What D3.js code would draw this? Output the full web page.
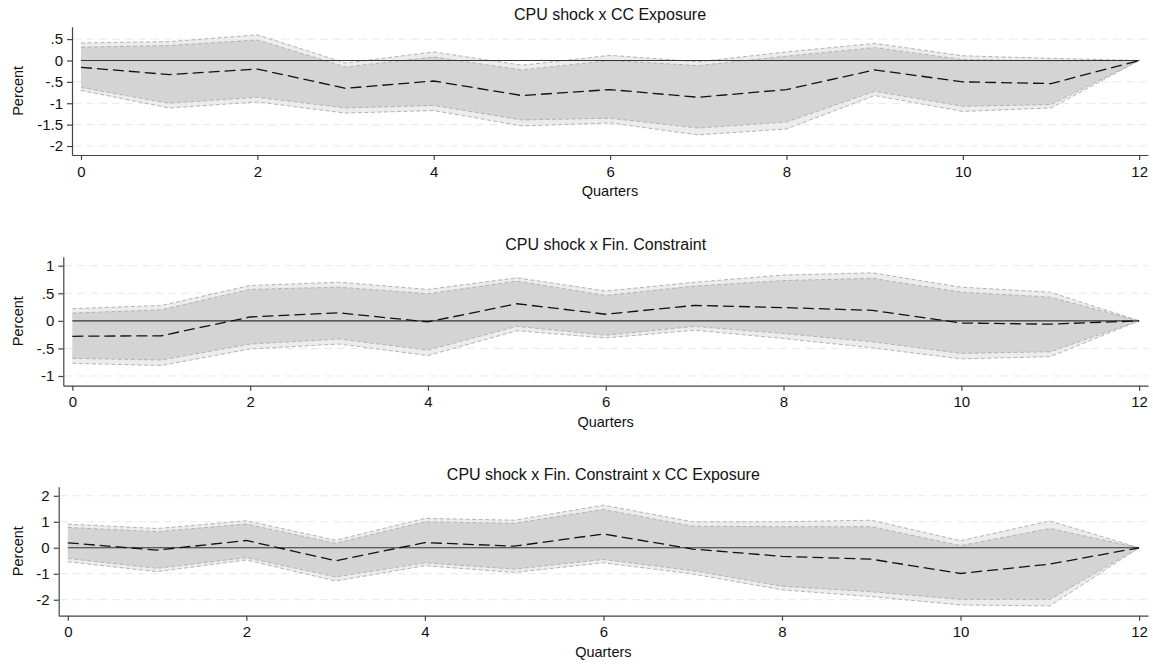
<!DOCTYPE html>
<html>
<head>
<meta charset="utf-8">
<script src="https://cdn.jsdelivr.net/npm/d3@7"></script>
<style>
  html, body { margin: 0; padding: 0; background: #ffffff; }
  svg { display: block; font-family: "Liberation Sans", Arial, Helvetica, sans-serif; }
</style>
</head>
<body>
<svg id="chart" width="1153" height="664"></svg>
<script>
// Horizon in quarters
const quarters = [0, 1, 2, 3, 4, 5, 6, 7, 8, 9, 10, 11, 12];
const xTicks = [0, 2, 4, 6, 8, 10, 12];

// Panel 1: CPU shock x CC Exposure
const ccTitle = "CPU shock x CC Exposure";
const ccMean = [-0.16, -0.33, -0.20, -0.65, -0.48, -0.82, -0.68, -0.86, -0.68, -0.22, -0.50, -0.54, 0];
const ccHi90 = [0.41, 0.44, 0.60, -0.06, 0.20, -0.11, 0.12, -0.03, 0.20, 0.40, 0.11, 0.05, 0];
const ccHi68 = [0.31, 0.35, 0.48, -0.15, 0.08, -0.22, 0.00, -0.12, 0.10, 0.30, 0.02, -0.01, 0];
const ccLo68 = [-0.63, -1.00, -0.86, -1.11, -1.05, -1.39, -1.35, -1.58, -1.44, -0.72, -1.07, -1.03, 0];
const ccLo90 = [-0.70, -1.11, -0.97, -1.23, -1.17, -1.53, -1.46, -1.74, -1.60, -0.82, -1.19, -1.11, 0];
const ccTicks = [0.5, 0, -0.5, -1, -1.5, -2];

// Panel 2: CPU shock x Fin. Constraint
const fcTitle = "CPU shock x Fin. Constraint";
const fcMean = [-0.28, -0.27, 0.07, 0.145, -0.02, 0.31, 0.12, 0.28, 0.24, 0.19, -0.04, -0.06, 0];
const fcHi90 = [0.22, 0.28, 0.64, 0.70, 0.57, 0.78, 0.54, 0.70, 0.83, 0.87, 0.61, 0.52, 0];
const fcHi68 = [0.14, 0.20, 0.57, 0.61, 0.49, 0.72, 0.46, 0.63, 0.73, 0.77, 0.52, 0.43, 0];
const fcLo68 = [-0.68, -0.71, -0.42, -0.33, -0.53, -0.10, -0.26, -0.10, -0.23, -0.38, -0.59, -0.56, 0];
const fcLo90 = [-0.77, -0.81, -0.51, -0.42, -0.63, -0.18, -0.31, -0.17, -0.32, -0.49, -0.69, -0.65, 0];
const fcTicks = [1, 0.5, 0, -0.5, -1];

// Panel 3: CPU shock x Fin. Constraint x CC Exposure
const fxTitle = "CPU shock x Fin. Constraint x CC Exposure";
const fxMean = [0.19, -0.09, 0.28, -0.50, 0.20, 0.06, 0.53, -0.05, -0.33, -0.44, -0.99, -0.63, 0];
const fxHi90 = [0.91, 0.74, 1.04, 0.29, 1.13, 1.06, 1.64, 1.00, 1.00, 1.06, 0.27, 1.03, 0];
const fxHi68 = [0.78, 0.62, 0.91, 0.17, 1.00, 0.94, 1.47, 0.83, 0.81, 0.81, 0.08, 0.74, 0];
const fxLo68 = [-0.41, -0.79, -0.38, -1.12, -0.58, -0.82, -0.45, -0.88, -1.48, -1.69, -1.99, -1.99, 0];
const fxLo90 = [-0.54, -0.92, -0.47, -1.28, -0.69, -0.95, -0.58, -1.01, -1.62, -1.88, -2.20, -2.24, 0];
const fxTicks = [2, 1, 0, -1, -2];

// Layout of each panel (pixels) and value range of its y axis
const panels = [
  { title: ccTitle, mean: ccMean, hi90: ccHi90, hi68: ccHi68, lo68: ccLo68, lo90: ccLo90, ticks: ccTicks,
    left: 72, top: 26.7, bottom: 155, yDomain: [-2.21, 0.79], titleY: 20 },
  { title: fcTitle, mean: fcMean, hi90: fcHi90, hi68: fcHi68, lo68: fcLo68, lo90: fcLo90, ticks: fcTicks,
    left: 63.3, top: 256.7, bottom: 385.7, yDomain: [-1.176, 1.163], titleY: 250 },
  { title: fxTitle, mean: fxMean, hi90: fxHi90, hi68: fxHi68, lo68: fxLo68, lo90: fxLo90, ticks: fxTicks,
    left: 58.7, top: 486.7, bottom: 615.7, yDomain: [-2.615, 2.35], titleY: 480 }
];
const plotRight = 1148;

// Stata-style numbers: ".5", "-.5", "-1.5"
const fmt = v => {
  let s = String(v);
  return s.replace(/^0\./, ".").replace(/^-0\./, "-.");
};

const svg = d3.select("#chart");
const axisColor = "#444";

panels.forEach(p => {
  const x = d3.scaleLinear().domain([-0.102, 12.1]).range([p.left, plotRight]);
  const y = d3.scaleLinear().domain(p.yDomain).range([p.bottom, p.top]);
  const g = svg.append("g");

  // horizontal grid
  g.append("g").selectAll("line")
    .data(p.ticks.filter(t => t !== 0))
    .join("line")
    .attr("x1", p.left + 1).attr("x2", plotRight)
    .attr("y1", d => y(d)).attr("y2", d => y(d))
    .attr("stroke", "#e8e8e8").attr("stroke-width", 1)
    .attr("stroke-dasharray", "8,5");

  const rows = quarters.map((q, i) => ({
    q, mean: p.mean[i], hi90: p.hi90[i], hi68: p.hi68[i], lo68: p.lo68[i], lo90: p.lo90[i]
  }));

  const band = (lo, hi) => d3.area().x(d => x(d.q)).y0(d => y(d[lo])).y1(d => y(d[hi]));
  const line = key => d3.line().x(d => x(d.q)).y(d => y(d[key]));

  // wide confidence band
  g.append("path").datum(rows).attr("d", band("lo90", "hi90"))
    .attr("fill", "#ececec").attr("stroke", "none");
  // narrow confidence band
  g.append("path").datum(rows).attr("d", band("lo68", "hi68"))
    .attr("fill", "#d4d4d4").attr("stroke", "none");

  // band edges
  ["hi90", "hi68", "lo68", "lo90"].forEach(k => {
    g.append("path").datum(rows).attr("d", line(k))
      .attr("fill", "none").attr("stroke", "#b3b3b3").attr("stroke-width", 1)
      .attr("stroke-dasharray", "4,2.5");
  });

  // zero reference line
  g.append("line")
    .attr("x1", x(0)).attr("x2", x(12))
    .attr("y1", y(0)).attr("y2", y(0))
    .attr("stroke", "#333").attr("stroke-width", 1.1);

  // point estimate
  g.append("path").datum(rows).attr("d", line("mean"))
    .attr("fill", "none").attr("stroke", "#111").attr("stroke-width", 1.3)
    .attr("stroke-dasharray", "11,5");

  // y axis
  const ya = g.append("g").attr("transform", `translate(${p.left},0)`)
    .call(d3.axisLeft(y).tickValues(p.ticks).tickFormat(fmt).tickSize(5).tickPadding(4).tickSizeOuter(0));
  // x axis
  const xa = g.append("g").attr("transform", `translate(0,${p.bottom})`)
    .call(d3.axisBottom(x).tickValues(xTicks).tickFormat(d3.format("d")).tickSize(5).tickPadding(6).tickSizeOuter(0));
  [ya, xa].forEach(a => {
    a.selectAll("path,line").attr("stroke", axisColor).attr("stroke-width", 1.2);
    a.selectAll("text").attr("fill", "#111").style("font-size", "15px")
      .style("font-family", '"Liberation Sans", Arial, Helvetica, sans-serif');
  });

  // titles
  g.append("text")
    .attr("x", (p.left + plotRight) / 2).attr("y", p.titleY)
    .attr("text-anchor", "middle").attr("fill", "#111")
    .style("font-size", "16px").text(p.title);

  g.append("text")
    .attr("x", (p.left + plotRight) / 2).attr("y", p.bottom + 41)
    .attr("text-anchor", "middle").attr("fill", "#111")
    .style("font-size", "14.5px").text("Quarters");

  g.append("text")
    .attr("transform", `translate(22.5,${(p.top + p.bottom) / 2}) rotate(-90)`)
    .attr("text-anchor", "middle").attr("fill", "#111")
    .style("font-size", "14.5px").text("Percent");
});
</script>
</body>
</html>
